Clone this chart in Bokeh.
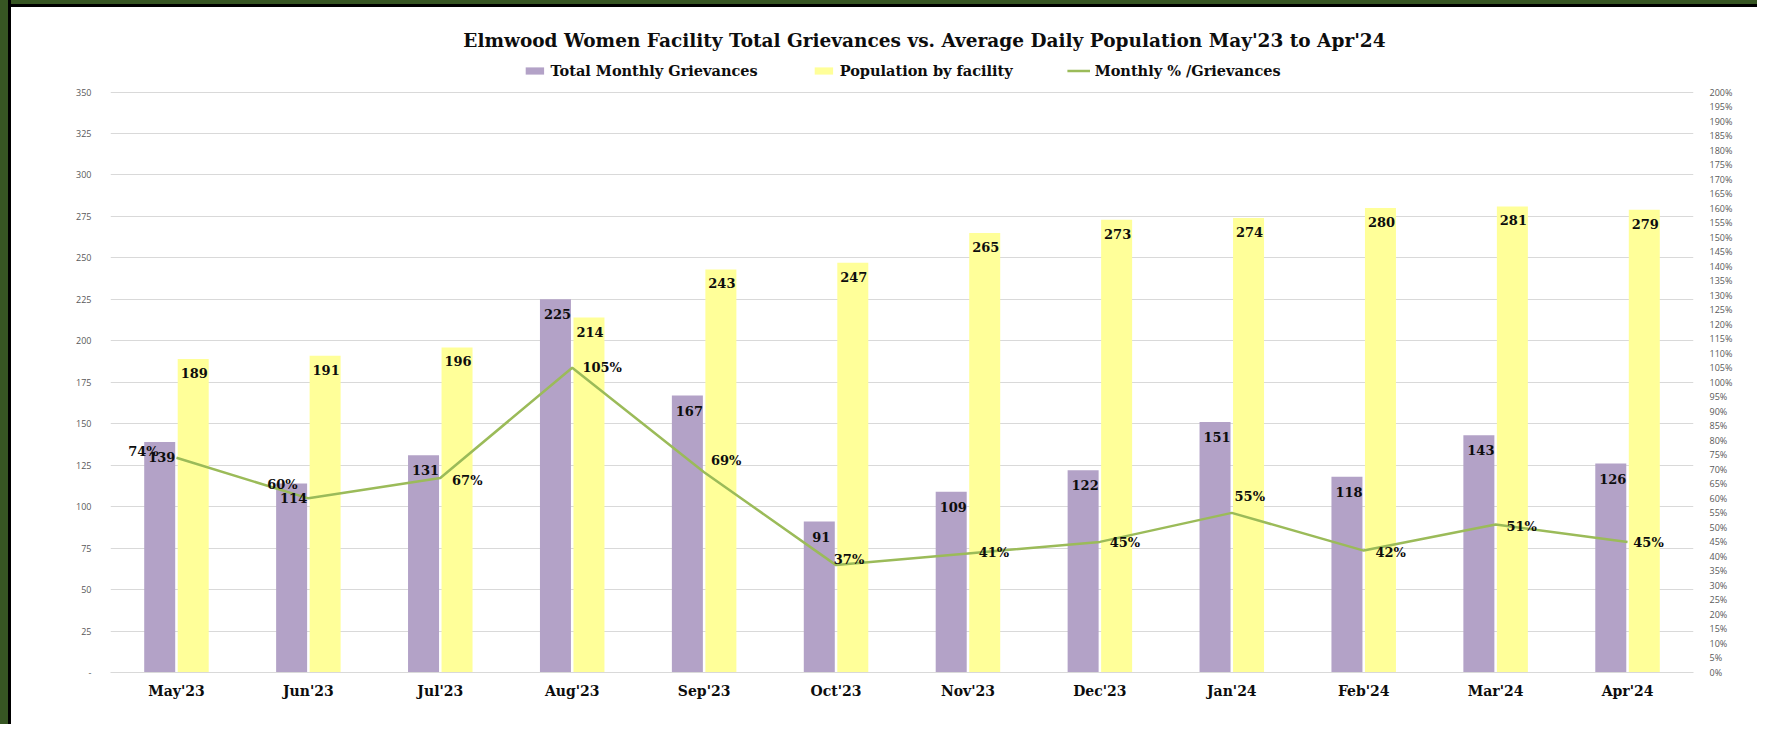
from bokeh.plotting import figure
from bokeh.models import (FactorRange, Range1d, LinearAxis, FixedTicker, PrintfTickFormatter,
                          ColumnDataSource, Label)
from bokeh.transform import dodge
from bokeh.core.properties import value
from bokeh.embed import file_html
from bokeh.resources import INLINE

# ---------------- data ----------------
months = ["May'23", "Jun'23", "Jul'23", "Aug'23", "Sep'23", "Oct'23",
          "Nov'23", "Dec'23", "Jan'24", "Feb'24", "Mar'24", "Apr'24"]
grievances = [139, 114, 131, 225, 167, 91, 109, 122, 151, 118, 143, 126]
population = [189, 191, 196, 214, 243, 247, 265, 273, 274, 280, 281, 279]
pct_grievances = [74, 60, 67, 105, 69, 37, 41, 45, 55, 42, 51, 45]
left_ticks = list(range(0, 351, 25))
right_ticks = list(range(0, 201, 5))
title_text = "Elmwood Women Facility Total Grievances vs. Average Daily Population May'23 to Apr'24"
series_names = ["Total Monthly Grievances", "Population by facility", "Monthly % /Grievances"]

# ---------------- style / layout ----------------
W, H = 1757, 724
FRAME_LEFT, FRAME_RIGHT = 110, 1693
FRAME_TOP, FRAME_BOTTOM = 14, 672
PX_PER_UNIT = 580.5 / 350.0
Y_END = (FRAME_BOTTOM - FRAME_TOP) / PX_PER_UNIT
PCT_END = Y_END * 200.0 / 350.0
PURPLE, YELLOW, GREEN = "#B3A2C7", "#FFFF99", "#9BBB59"
SERIF_NAME = "DejaVu Serif"
SERIF = value(SERIF_NAME)
DARK = "#0D0D0D"
# manual label nudges (screen px) for the % labels, as placed in the original chart
pct_dx = [-33, -26, 27, 30, 22, 13, 26, 25, 18, 27, 26, 21]
pct_dy = [-6, -14, 2, 0, -12, -6, -1, 1, -16, 2, 2, 1]

src = ColumnDataSource(dict(
    month=months, griev=grievances, pop=population, pct=pct_grievances,
    griev_lbl=[str(v) for v in grievances], pop_lbl=[str(v) for v in population],
    pct_lbl=[f"{v}%" for v in pct_grievances], dx=pct_dx, dy=pct_dy))

p = figure(width=W, height=H, x_range=FactorRange(factors=months), y_range=Range1d(0, Y_END),
           output_backend="svg", toolbar_location=None,
           min_border_left=FRAME_LEFT, min_border_right=W - FRAME_RIGHT,
           min_border_top=FRAME_TOP, min_border_bottom=H - FRAME_BOTTOM)
p.extra_y_ranges = {"pct": Range1d(0, PCT_END)}
p.outline_line_color = None
p.background_fill_color = "white"
p.border_fill_color = None
# dark green / black frame along the left and top edge of the original picture
p.styles = {
    "background-color": "white",
    "background-image": (
        "linear-gradient(to right, #375623 0px, #375623 8px, #000000 8px, #000000 11px, "
        "rgba(255,255,255,0) 11px), "
        "linear-gradient(to bottom, #375623 0px, #375623 4px, #000000 4px, #000000 7px, "
        "rgba(255,255,255,0) 7px)"),
}

BW, OFF = 0.235, 0.127
p.vbar(x=dodge("month", -OFF, range=p.x_range), top="griev", width=BW, source=src,
       fill_color=PURPLE, line_color=None, legend_label=series_names[0])
p.vbar(x=dodge("month", OFF, range=p.x_range), top="pop", width=BW, source=src,
       fill_color=YELLOW, line_color=None, legend_label=series_names[1])
p.line(x="month", y="pct", y_range_name="pct", source=src, line_color=GREEN,
       line_width=2.5, legend_label=series_names[2])

lbl_kw = dict(text_font=SERIF, text_font_style="bold", text_font_size="13px",
              text_color=DARK, text_align="center", text_baseline="middle")
p.text(x=dodge("month", -OFF, range=p.x_range), y="griev", text="griev_lbl", source=src,
       x_offset=2, y_offset=15, **lbl_kw)
p.text(x=dodge("month", OFF, range=p.x_range), y="pop", text="pop_lbl", source=src,
       x_offset=1, y_offset=14, **lbl_kw)
p.text(x="month", y="pct", y_range_name="pct", text="pct_lbl", source=src,
       x_offset="dx", y_offset="dy", **lbl_kw)

# axes
yax = p.yaxis[0]
yax.ticker = FixedTicker(ticks=left_ticks)
yax.major_label_overrides = {0: "-"}
yax.axis_line_color = None
yax.major_tick_line_color = None
yax.minor_tick_line_color = None
yax.major_label_text_font = "Open Sans"
yax.major_label_text_font_size = "9px"
yax.major_label_text_color = "#595959"
yax.major_label_standoff = 13

rax = LinearAxis(y_range_name="pct", ticker=FixedTicker(ticks=right_ticks),
                 formatter=PrintfTickFormatter(format="%d%%"))
rax.axis_line_color = None
rax.major_tick_line_color = None
rax.minor_tick_line_color = None
rax.major_label_text_font = "Open Sans"
rax.major_label_text_font_size = "9px"
rax.major_label_text_color = "#595959"
rax.major_label_standoff = 10
p.add_layout(rax, "right")

xax = p.xaxis[0]
xax.axis_line_color = "#D9D9D9"
xax.major_tick_line_color = None
xax.minor_tick_line_color = None
xax.major_label_text_font = SERIF_NAME
xax.major_label_text_font_style = "bold"
xax.major_label_text_font_size = "14px"
xax.major_label_text_color = DARK
xax.major_label_standoff = 4

p.xgrid.visible = False
p.ygrid.ticker = FixedTicker(ticks=left_ticks)
p.ygrid.grid_line_color = "#D9D9D9"
p.ygrid.grid_line_width = 1

# legend
lg = p.legend[0]
lg.location = "top_center"
lg.orientation = "horizontal"
lg.border_line_color = None
lg.background_fill_alpha = 0
lg.label_text_font = SERIF_NAME
lg.label_text_font_style = "bold"
lg.label_text_font_size = "14.5px"
lg.label_text_color = DARK
lg.glyph_width = 23
lg.glyph_height = 9
lg.label_standoff = 5
lg.spacing = 54
lg.padding = 0
lg.margin = 48
lg.label_height = 14

# title
p.add_layout(Label(x=6.17, y=(FRAME_BOTTOM - 39.6) / PX_PER_UNIT, text=title_text,
                   text_font=SERIF_NAME, text_font_style="bold", text_font_size="18.5px",
                   text_color=DARK, text_align="center", text_baseline="middle"))

open("out.html", "w").write(file_html(p, INLINE))
